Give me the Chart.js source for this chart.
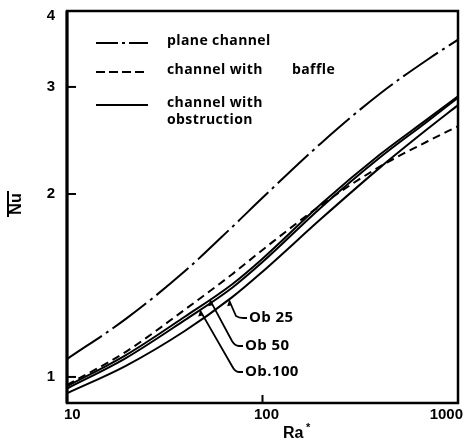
<!DOCTYPE html>
<html>
<head>
<meta charset="utf-8">
<script src="https://cdn.jsdelivr.net/npm/chart.js@4/dist/chart.umd.min.js"></script>
<style>
  body { margin: 0; background: #fff; }
  #wrap { width: 466px; height: 444px; }
</style>
</head>
<body>
<div id="wrap"><canvas id="graph"></canvas></div>
<script>
// Ra* values shared by every curve
const ra = [10, 20, 40, 70, 100, 200, 400, 700, 1000];

// mean Nusselt number for each configuration
const planeChannel = [1.07, 1.246, 1.492, 1.765, 1.971, 2.427, 2.927, 3.329, 3.588];
const baffle       = [0.97, 1.10, 1.29, 1.476, 1.618, 1.919, 2.22, 2.442, 2.585];
const ob25         = [0.94, 1.043, 1.19, 1.353, 1.49, 1.822, 2.212, 2.56, 2.80];
const ob50         = [0.965, 1.086, 1.256, 1.421, 1.565, 1.927, 2.324, 2.658, 2.896];
const ob100        = [0.957, 1.074, 1.24, 1.402, 1.545, 1.902, 2.298, 2.635, 2.88];

const xTicks = [10, 100, 1000];
const yTicks = [1, 2, 3, 4];
const legendNames = [['plane channel'], ['channel with', 'baffle'], ['channel with', 'obstruction']];
const obNames = ['Ob 25', 'Ob 50', 'Ob.100'];

const pts = vals => ra.map((x, i) => ({ x: x, y: vals[i] }));

function curve(vals, dash) {
    return {
        data: pts(vals),
        borderColor: '#000',
        borderWidth: 2,
        borderDash: dash,
        pointRadius: 0,
        fill: false,
        cubicInterpolationMode: 'monotone'
    };
}

// value of a series at some Ra, straight line between points in log-log
function valueAt(vals, r) {
    for (let i = 0; i < ra.length - 1; i++) {
        if (r >= ra[i] && r <= ra[i + 1]) {
            const t = Math.log(r / ra[i]) / Math.log(ra[i + 1] / ra[i]);
            return Math.exp(Math.log(vals[i]) + t * Math.log(vals[i + 1] / vals[i]));
        }
    }
    return vals[vals.length - 1];
}

const numFont = 'bold 15px "Liberation Sans", Arial, sans-serif';
const textFont = 'bold 14px "Open Sans", sans-serif';

const decorations = {
    id: 'decorations',
    afterDraw(chart) {
        const ctx = chart.ctx;
        const a = chart.chartArea;
        const xs = chart.scales.x;
        const ys = chart.scales.y;
        ctx.save();
        ctx.strokeStyle = '#000';
        ctx.fillStyle = '#000';
        ctx.setLineDash([]);

        // frame
        ctx.lineWidth = 2.5;
        ctx.strokeRect(a.left, a.top, a.right - a.left, a.bottom - a.top);
        ctx.lineWidth = 3;
        ctx.beginPath();
        ctx.moveTo(a.left, a.top);
        ctx.lineTo(a.left, a.bottom);
        ctx.stroke();

        // y ticks and labels
        ctx.font = numFont;
        ctx.textAlign = 'right';
        ctx.textBaseline = 'middle';
        ctx.lineWidth = 2;
        yTicks.forEach(v => {
            let y = ys.getPixelForValue(v);
            if (v < 4) {
                ctx.beginPath();
                ctx.moveTo(a.left, y);
                ctx.lineTo(a.left + 9, y);
                ctx.stroke();
            } else {
                y += 5;
            }
            ctx.fillText(String(v), a.left - 12, y);
        });

        // x ticks and labels
        xTicks.forEach((v, i) => {
            const x = xs.getPixelForValue(v);
            if (i === 1) {
                ctx.beginPath();
                ctx.moveTo(x, a.bottom);
                ctx.lineTo(x, a.bottom - 8);
                ctx.stroke();
            }
            ctx.textAlign = i === 0 ? 'left' : (i === 1 ? 'center' : 'right');
            const dx = i === 0 ? -3 : (i === 1 ? 4 : 5);
            ctx.fillText(String(v), x + dx, a.bottom + 12);
        });

        // axis titles
        ctx.font = 'bold 16px "Liberation Sans", Arial, sans-serif';
        ctx.textAlign = 'left';
        ctx.fillText('Ra', 283, 434);
        ctx.font = 'bold 11px "Liberation Sans", Arial, sans-serif';
        ctx.fillText('*', 306, 428);

        ctx.save();
        ctx.translate(17, 204);
        ctx.rotate(-Math.PI / 2);
        ctx.font = 'bold 16px "Liberation Sans", Arial, sans-serif';
        ctx.textAlign = 'center';
        ctx.fillText('Nu', 0, 0);
        ctx.lineWidth = 2;
        ctx.beginPath();
        ctx.moveTo(-13, -9);
        ctx.lineTo(13, -9);
        ctx.stroke();
        ctx.restore();

        // legend
        const dashes = [[22, 4, 3, 4], [9, 4], []];
        const rows = [43, 72, 105];
        ctx.font = textFont;
        ctx.letterSpacing = '0.4px';
        ctx.textAlign = 'left';
        ctx.textBaseline = 'middle';
        legendNames.forEach((parts, i) => {
            ctx.lineWidth = 2.2;
            ctx.setLineDash(dashes[i]);
            ctx.beginPath();
            ctx.moveTo(96, rows[i]);
            ctx.lineTo(148, rows[i]);
            ctx.stroke();
            ctx.setLineDash([]);
            if (i === 1) {
                // wide gap before the last word on this row
                ctx.fillText(parts[0], 167, rows[i] - 2);
                ctx.fillText(parts[1], 292, rows[i] - 2);
            } else {
                parts.forEach((line, k) => ctx.fillText(line, 167, rows[i] - 2 + k * 17));
            }
        });

        // leaders for the obstruction curves
        const leaders = [
            { vals: ob25, r: 67.5, bend: [236, 316], y: 318 },
            { vals: ob50, r: 54, bend: [232, 341], y: 346 },
            { vals: ob100, r: 48, bend: [232, 366], y: 372 }
        ];
        ctx.lineWidth = 1.8;
        ctx.font = 'bold 15px "Open Sans", sans-serif';
        leaders.forEach((l, i) => {
            const tx = xs.getPixelForValue(l.r);
            const ty = ys.getPixelForValue(valueAt(l.vals, l.r));
            ctx.beginPath();
            ctx.moveTo(tx, ty + 1);
            ctx.lineTo(l.bend[0], l.bend[1]);
            ctx.quadraticCurveTo(l.bend[0] + 3, l.y, l.bend[0] + 7, l.y);
            ctx.lineTo(l.bend[0] + 11, l.y);
            ctx.stroke();
            ctx.beginPath();
            ctx.moveTo(tx, ty + 1);
            ctx.lineTo(tx - 2, ty + 7);
            ctx.lineTo(tx + 2.5, ty + 6);
            ctx.closePath();
            ctx.fill();
            ctx.fillText(obNames[i], l.bend[0] + 13, l.y);
        });

        ctx.restore();
    }
};

new Chart('graph', {
    type: 'line',
    data: {
        datasets: [
            curve(planeChannel, [42, 5, 3, 5]),
            curve(baffle, [8, 5]),
            curve(ob25, []),
            curve(ob50, []),
            curve(ob100, [])
        ]
    },
    options: {
        responsive: true,
        maintainAspectRatio: false,
        animation: false,
        layout: { padding: { left: 67, right: 8, top: 11, bottom: 41 } },
        plugins: { legend: { display: false }, tooltip: { enabled: false } },
        scales: {
            x: { type: 'logarithmic', min: 10, max: 1000, display: false },
            y: { type: 'logarithmic', min: 0.906, max: 4, display: false }
        }
    },
    plugins: [decorations]
});
</script>
</body>
</html>
